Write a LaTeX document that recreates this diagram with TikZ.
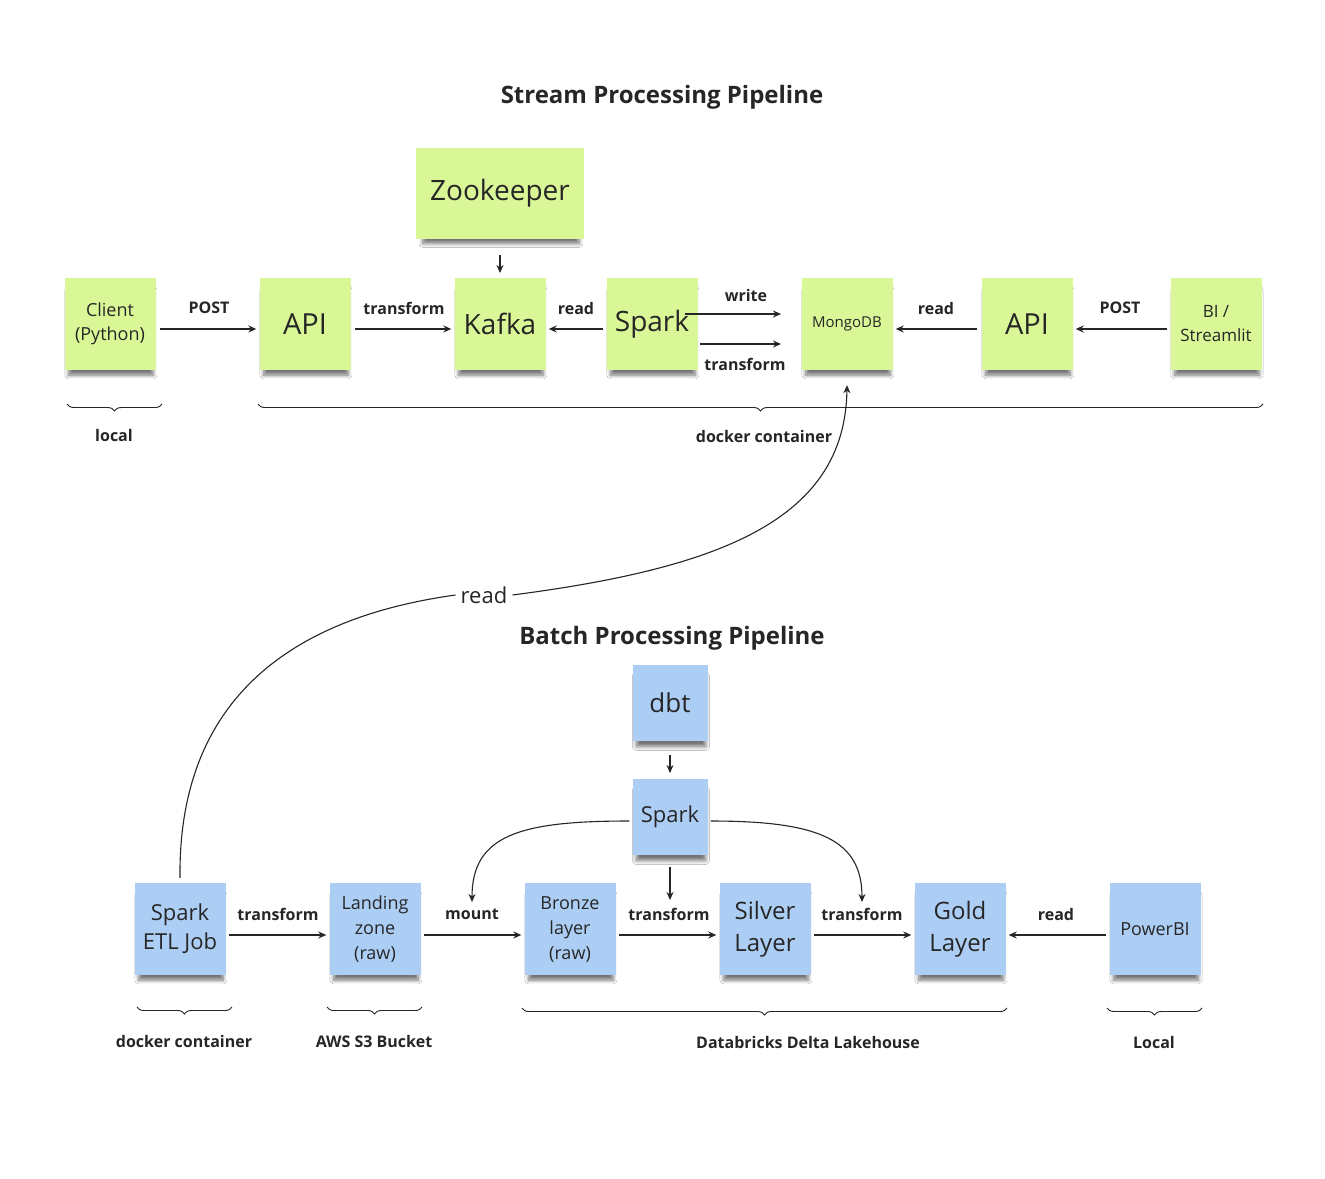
\documentclass[tikz,border=0pt]{standalone}
\usepackage{fontspec}
\setmainfont{Open Sans}
\usetikzlibrary{arrows.meta,decorations.pathreplacing,shadows.blur}
\definecolor{stickyG}{HTML}{D9F797}
\definecolor{stickyB}{HTML}{ADCEF4}
\definecolor{ink}{HTML}{262626}
\newcommand{\fs}[2]{\fontsize{#1}{#2}\selectfont}
\tikzset{
 sticky/.style={rectangle, minimum width=91pt, minimum height=92pt, inner sep=2pt, align=center, text=ink,
   blur shadow={shadow xshift=1pt, shadow yshift=-9pt, shadow blur steps=8, shadow blur radius=4pt, shadow opacity=55, shadow scale=0.93}},
 gsticky/.style={sticky, fill=stickyG},
 bsticky/.style={sticky, fill=stickyB},
 tip/.style={-{Stealth[length=8pt,width=7pt]}},
 conn/.style={draw=ink, line width=1.3pt, tip},
 curv/.style={draw=ink, line width=1.1pt},
 elabel/.style={font=\fontsize{16}{19}\selectfont\bfseries, text=ink, inner sep=0pt},
 ttl/.style={font=\fontsize{24}{28}\selectfont\bfseries, text=ink},
 brc/.style={draw=ink, line width=0.9pt, decorate, decoration={brace, mirror, amplitude=7pt}},
}
\begin{document}
\begin{tikzpicture}[x=1pt,y=-1pt]
\useasboundingbox[fill=white] (0,0) rectangle (1325,1178);

% ---------- Stream ----------
\node[ttl] (t1) at (662,97) {Stream Processing Pipeline};

\node[gsticky, minimum width=168pt, minimum height=91pt, font=\fs{28}{34}] (zk) at (500,193) {Zookeeper};
\node[gsticky, font=\fs{18}{24}] (client) at (110,324) {Client\\(Python)};
\node[gsticky, font=\fs{29}{34}] (api1) at (305,324) {API};
\node[gsticky, font=\fs{28}{34}] (kafka) at (500,324) {Kafka};
\node[gsticky, font=\fs{28}{34}] (spark1) at (652,324) {Spark};
\node[gsticky, font=\fs{15}{18}] (mongo) at (847,324) {MongoDB};
\node[gsticky, font=\fs{17}{24}] (bi) at (1216,324) {BI /\\Streamlit};
\node[gsticky, font=\fs{29}{34}] (api2) at (1027,324) {API};

\coordinate (zka) at (500,255);
\coordinate (zkb) at (500,273);
\draw[conn, line width=1.1pt] (zka) -- (zkb);

\draw[conn] ([xshift=4pt,yshift=-5pt]client.east) -- ([xshift=-3pt,yshift=-5pt]api1.west);
\node[elabel] (l1) at (209,308) {POST};
\draw[conn] ([xshift=4pt,yshift=-5pt]api1.east) -- ([xshift=-3pt,yshift=-5pt]kafka.west);
\node[elabel] (l2) at (404,308) {transform};
\draw[conn] ([xshift=-3pt,yshift=-5pt]spark1.west) -- ([xshift=3pt,yshift=-5pt]kafka.east);
\node[elabel] (l3) at (576,308) {read};
\coordinate (wa) at (685,314);
\coordinate (wb) at (781,314);
\draw[conn] (wa) -- (wb);
\node[elabel] (l4) at (746,295) {write};
\coordinate (ta) at (700,344);
\coordinate (tb) at (781,344);
\draw[conn] (ta) -- (tb);
\node[elabel] (l5) at (745,364) {transform};
\draw[conn] ([xshift=-4pt,yshift=-5pt]api2.west) -- ([xshift=3pt,yshift=-5pt]mongo.east);
\node[elabel] (l6) at (936,308) {read};
\draw[conn] ([xshift=-3pt,yshift=-5pt]bi.west) -- ([xshift=3pt,yshift=-5pt]api2.east);
\node[elabel] (l7) at (1120,308) {POST};

\coordinate (b1a) at (67,404);
\coordinate (b1b) at (162,404);
\draw[brc] (b1a) -- (b1b);
\node[elabel] (bl1) at (114,435) {local};
\coordinate (b2a) at (258,404);
\coordinate (b2b) at (1263,404);
\draw[brc] (b2a) -- (b2b);
\node[elabel] (bl2) at (764,436) {docker container};

% ---------- Batch ----------
\node[ttl] (t2) at (672,638) {Batch Processing Pipeline};

\node[bsticky, minimum width=75pt, minimum height=76pt, font=\fs{26}{30}] (dbt) at (670,703) {dbt};
\node[bsticky, minimum width=75pt, minimum height=76pt, font=\fs{22}{26}] (spark2) at (670,817) {Spark};
\node[bsticky, font=\fs{22}{29}] (etl) at (180,929) {Spark\\ETL Job};
\node[bsticky, font=\fs{18}{25}] (land) at (375,929) {Landing\\zone\\(raw)};
\node[bsticky, font=\fs{18}{25}] (bronze) at (570,929) {Bronze\\layer\\(raw)};
\node[bsticky, font=\fs{24}{32}] (silver) at (765,929) {Silver\\Layer};
\node[bsticky, font=\fs{24}{32}] (gold) at (960,929) {Gold\\Layer};
\node[bsticky, font=\fs{18}{22}] (pbi) at (1155,929) {PowerBI};

\coordinate (da) at (670,755);
\coordinate (db) at (670,773);
\draw[conn, line width=1.1pt] (da) -- (db);
\coordinate (sa) at (670,867);
\coordinate (sb) at (670,900);
\draw[conn, line width=1.1pt] (sa) -- (sb);

\draw[conn] ([xshift=3pt,yshift=-6pt]etl.east) -- ([xshift=-3pt,yshift=-6pt]land.west);
\node[elabel] (m1) at (278,914) {transform};
\draw[conn] ([xshift=3pt,yshift=-6pt]land.east) -- ([xshift=-3pt,yshift=-6pt]bronze.west);
\node[elabel] (m2) at (472,914) {mount};
\draw[conn] ([xshift=3pt,yshift=-6pt]bronze.east) -- ([xshift=-3pt,yshift=-6pt]silver.west);
\node[elabel] (m3) at (669,914) {transform};
\draw[conn] ([xshift=3pt,yshift=-6pt]silver.east) -- ([xshift=-3pt,yshift=-6pt]gold.west);
\node[elabel] (m4) at (862,914) {transform};
\draw[conn] ([xshift=-3pt,yshift=-6pt]pbi.west) -- ([xshift=3pt,yshift=-6pt]gold.east);
\node[elabel] (m5) at (1056,914) {read};

\coordinate (lc) at (472,902);
\coordinate (rc) at (862,902);
\draw[curv, tip] ([xshift=-3pt,yshift=-4pt]spark2.west) .. controls (520,821) and (472,835) .. (lc);
\draw[curv, tip] ([xshift=3pt,yshift=-4pt]spark2.east) .. controls (820,821) and (862,840) .. (rc);

\coordinate (b3a) at (137,1007);
\coordinate (b3b) at (232,1007);
\draw[brc] (b3a) -- (b3b);
\node[elabel] (bl3) at (184,1041) {docker container};
\coordinate (b4a) at (327,1007);
\coordinate (b4b) at (422,1007);
\draw[brc] (b4a) -- (b4b);
\node[elabel] (bl4) at (374,1041) {AWS S3 Bucket};
\coordinate (b5a) at (522,1008);
\coordinate (b5b) at (1007,1008);
\draw[brc] (b5a) -- (b5b);
\node[elabel] (bl5) at (808,1042) {Databricks Delta Lakehouse};
\coordinate (b6a) at (1107,1008);
\coordinate (b6b) at (1202,1008);
\draw[brc] (b6a) -- (b6b);
\node[elabel] (bl6) at (1154,1042) {Local};

% ---------- long read curve ----------
\node[font=\fs{22}{26}, text=ink, inner sep=5pt] (rd) at (484,595) {read};
\draw[curv] ([yshift=5pt]etl.north) .. controls (178,700) and (290,618) .. (rd.west);
\draw[curv, tip] (rd.east) .. controls (720,568) and (845,520) .. ([yshift=-15pt]mongo.south);
\end{tikzpicture}
\end{document}
